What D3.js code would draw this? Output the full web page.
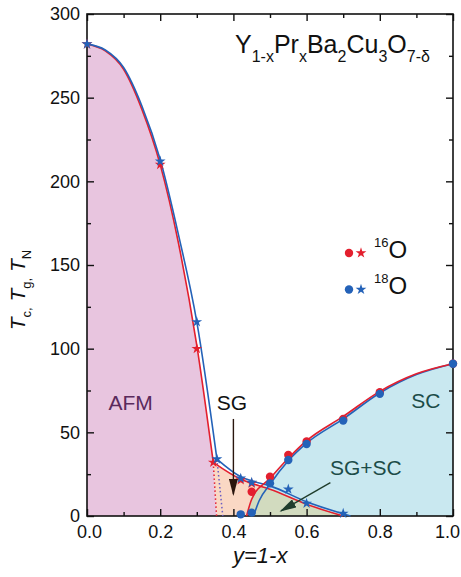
<!DOCTYPE html>
<html>
<head>
<meta charset="utf-8">
<script src="https://d3js.org/d3.v7.min.js"></script>
<style type="text/css">
* { box-sizing:border-box; }
body { margin:0; background:#fff; }
svg text { font-family:'Liberation Sans', Arial, sans-serif; }
</style>
</head>
<body>
<div id="my_dataviz"></div>
<script>
// measured points, [y, T]
var tn16 = [[0,282],[0.2,210],[0.3,100],[0.345,32]];
var tn18 = [[0,282],[0.2,212],[0.3,116],[0.355,34]];
var tg16 = [[0.42,21.5],[0.45,19.5]];
var tg18 = [[0.42,22.5],[0.45,20],[0.55,16],[0.6,7.5],[0.7,1.5]];
var tc16 = [[0.45,14.5],[0.5,23.5],[0.55,36.5],[0.6,44.5],[0.7,58],[0.8,74],[1.0,91]];
var tc18 = [[0.42,1],[0.45,2],[0.5,19.5],[0.55,33.5],[0.6,43],[0.7,57],[0.8,73],[1.0,91]];

// guide curves
var afmFit16 = [[0,282],[0.05,278],[0.1,267],[0.15,243],[0.2,210],[0.25,163],[0.3,102],[0.345,32]];
var afmFit18 = [[0,282],[0.05,278.5],[0.1,268],[0.15,245],[0.2,213],[0.25,168],[0.3,116],[0.355,34]];
var sgFit16 = [[0.345,32],[0.42,22],[0.45,19.5],[0.5,16],[0.6,7],[0.7,0]];
var sgFit18 = [[0.355,34],[0.42,23.5],[0.45,21],[0.5,18],[0.6,8.5],[0.72,0]];
var scFit16 = [[0.436,0],[0.45,10],[0.5,22.5],[0.55,34.5],[0.6,45],[0.7,59.5],[0.8,74.5],[0.9,85],[1.0,91]];
var scFit18 = [[0.455,0],[0.47,9],[0.5,19],[0.55,33],[0.6,43.5],[0.7,58],[0.8,73.5],[0.9,84.5],[1.0,91]];
var dot16 = [[0.345,32],[0.354,0]];
var dot18 = [[0.355,34],[0.371,0]];

var xTicks = [0,0.2,0.4,0.6,0.8,1.0];
var xMinor = [0.1,0.3,0.5,0.7,0.9];
var yTicks = [0,50,100,150,200,250,300];
var yMinor = [25,75,125,175,225,275];

var red = "#e31f2e", blue = "#2462b8";

var margin = {top: 14, right: 8, bottom: 61, left: 87},
  width = 461 - margin.left - margin.right,
  height = 577 - margin.top - margin.bottom;

var svgRoot = d3.select("#my_dataviz")
  .append("svg")
    .attr("width", 461)
    .attr("height", 577);
var svg = svgRoot.append("g")
    .attr("transform", "translate(" + margin.left + "," + margin.top + ")");

var x = d3.scaleLinear().domain([0, 1]).range([0, width]);
var y = d3.scaleLinear().domain([0, 300]).range([height, 0]);

var line = d3.line()
  .x(function(d) { return x(d[0]); })
  .y(function(d) { return y(d[1]); })
  .curve(d3.curveMonotoneX);
var straight = d3.line()
  .x(function(d) { return x(d[0]); })
  .y(function(d) { return y(d[1]); });

function pt(d) { return "L" + x(d[0]) + "," + y(d[1]); }

// region fills
var sgPath = line(sgFit16) + pt([0.354,0]) + "Z";
var scPath = line(scFit16) + pt([1.0,0]) + "Z";
var afmPath = line(afmFit16) + pt(dot16[1]) + pt([0,0]) + "Z";

svgRoot.append("defs").append("clipPath").attr("id", "scClip")
  .append("path").attr("d", scPath);

svg.append("path").attr("d", sgPath).style("fill", "#fad8c4");
svg.append("path").attr("d", scPath).style("fill", "#c9e8f0");
svg.append("path").attr("d", sgPath).attr("clip-path", "url(#scClip)").style("fill", "#d2dbbf");
svg.append("path").attr("d", afmPath).style("fill", "#e8c5df");

// axes (ticks inward)
function ax(gen, vals, size, fmt) {
  return gen.tickValues(vals).tickSize(-size).tickFormat(fmt);
}
var fmt = d3.format(".1f");
var gx = svg.append("g").attr("transform", "translate(0," + height + ")")
  .call(ax(d3.axisBottom(x), xTicks, 7, fmt).tickPadding(9));
svg.append("g").attr("transform", "translate(0," + height + ")")
  .call(ax(d3.axisBottom(x), xMinor, 4, ""));
svg.append("g").call(ax(d3.axisTop(x), xTicks, 7, ""));
svg.append("g").call(ax(d3.axisTop(x), xMinor, 4, ""));
var gy = svg.append("g").call(ax(d3.axisLeft(y), yTicks, 7, d3.format("d")).tickPadding(7));
svg.append("g").call(ax(d3.axisLeft(y), yMinor, 4, ""));
svg.append("g").attr("transform", "translate(" + width + ",0)").call(ax(d3.axisRight(y), yTicks, 7, ""));
svg.append("g").attr("transform", "translate(" + width + ",0)").call(ax(d3.axisRight(y), yMinor, 4, ""));
svg.selectAll(".domain").remove();
svg.selectAll(".tick line").style("stroke", "#111").style("stroke-width", 1.4);
svg.selectAll(".tick text").style("font-size", "18px").style("fill", "#111")
  .style("font-family", "'Liberation Sans', Arial, sans-serif");
// keep the end x labels clear of the page edge and the y "0"
gx.selectAll(".tick text").filter(function(d) { return d === 1; }).attr("dx", "-6");
gx.selectAll(".tick text").filter(function(d) { return d === 0; }).attr("dx", "2");

svg.append("rect").attr("width", width).attr("height", height)
  .style("fill", "none").style("stroke", "#111").style("stroke-width", 1.6);

// dotted boundaries
svg.append("path").attr("d", straight(dot16)).style("fill", "none")
  .style("stroke", red).style("stroke-width", 1.5).style("stroke-dasharray", "1.5,2.5");
svg.append("path").attr("d", straight(dot18)).style("fill", "none")
  .style("stroke", "#6a5cc4").style("stroke-width", 1.5).style("stroke-dasharray", "1.5,2.5");

// phase lines
[[afmFit16, red], [afmFit18, blue], [sgFit16, red], [sgFit18, blue], [scFit18, blue], [scFit16, red]]
  .forEach(function(c) {
    svg.append("path").attr("d", line(c[0]))
      .style("fill", "none").style("stroke", c[1]).style("stroke-width", 1.6);
  });

// markers
var star = d3.symbol().type(d3.symbolStar).size(36);
function stars(data, col) {
  svg.selectAll(null).data(data).enter().append("path")
    .attr("d", star)
    .attr("transform", function(d) { return "translate(" + x(d[0]) + "," + y(d[1]) + ")"; })
    .style("fill", col);
}
function dots(data, col) {
  svg.selectAll(null).data(data).enter().append("circle")
    .attr("cx", function(d) { return x(d[0]); })
    .attr("cy", function(d) { return y(d[1]); })
    .attr("r", 4.2)
    .style("fill", col);
}
stars(tn16, red); stars(tg16, red); dots(tc16, red);
stars(tn18, blue); stars(tg18, blue); dots(tc18, blue);

// arrows
var defs = svgRoot.select("defs");
function marker(id, col) {
  defs.append("marker").attr("id", id)
    .attr("viewBox", "0 0 10 10").attr("refX", 9).attr("refY", 5)
    .attr("markerUnits", "userSpaceOnUse")
    .attr("orient", "auto")
    .attr("markerWidth", 17).attr("markerHeight", 9)
    .attr("preserveAspectRatio", "none")
    .append("path").attr("d", "M0,0L10,5L0,10Z").style("fill", col);
}
marker("arrBlack", "#2a160e");
marker("arrGreen", "#1f3d2c");
svg.append("line")
  .attr("x1", x(0.4)).attr("y1", y(58)).attr("x2", x(0.4)).attr("y2", y(13))
  .style("stroke", "#2a160e").style("stroke-width", 1.4).attr("marker-end", "url(#arrBlack)");
svg.append("line")
  .attr("x1", x(0.665)).attr("y1", y(20)).attr("x2", x(0.53)).attr("y2", y(3))
  .style("stroke", "#1f3d2c").style("stroke-width", 1.4).attr("marker-end", "url(#arrGreen)");

// region labels
function label(txt, xv, yv, col) {
  svg.append("text").attr("x", x(xv)).attr("y", y(yv)).attr("dy", "0.35em")
    .attr("text-anchor", "middle").style("font-size", "21px").style("fill", col).text(txt);
}
label("AFM", 0.119, 67.5, "#5a2a5c");
label("SG", 0.396, 67.5, "#111");
label("SC", 0.926, 69, "#1c4c48");
label("SG+SC", 0.762, 29, "#1c4c48");

// formula title
var title = svgRoot.append("text").attr("x", 235).attr("y", 53).style("font-size", "25px").style("fill", "#111");
var parts = [["Y",0],["1-x",1],["Pr",0],["x",1],["Ba",0],["2",1],["Cu",0],["3",1],["O",0],["7-\u03b4",1]];
var prev = 0;
parts.forEach(function(p) {
  var shift = p[1] ? 9 : 0;
  title.append("tspan").attr("dy", shift - prev)
    .style("font-size", p[1] ? "16px" : "25px").text(p[0]);
  prev = shift;
});

// legend
var legend = [["16", red, 253], ["18", blue, 289.5]];
legend.forEach(function(l) {
  svgRoot.append("circle").attr("cx", 349).attr("cy", l[2]).attr("r", 4.2).style("fill", l[1]);
  svgRoot.append("path").attr("d", star).attr("transform", "translate(361," + l[2] + ")").style("fill", l[1]);
  var t = svgRoot.append("text").attr("x", 374).attr("y", l[2] + 4.5).style("fill", "#111");
  t.append("tspan").attr("dy", -11).style("font-size", "13px").text(l[0]);
  t.append("tspan").attr("dy", 11).style("font-size", "24px").text("O");
});

// axis titles
svgRoot.append("text").attr("x", 233).attr("y", 563)
  .style("font-size", "22px").style("font-style", "italic").style("fill", "#111").text("y=1-x");

var yl = svgRoot.append("text").attr("transform", "translate(25,290) rotate(-90)")
  .attr("text-anchor", "middle").style("font-size", "21px").style("font-style", "italic").style("fill", "#111");
[["T","c"],["T","g"],["T","N"]].forEach(function(s, i) {
  yl.append("tspan").attr("dy", i ? -6 : 0).text((i ? " " : "") + s[0]);
  yl.append("tspan").attr("dy", 6).style("font-size", "13px").style("font-style", "normal").text(s[1] + (i < 2 ? "," : ""));
});
</script>
</body>
</html>
